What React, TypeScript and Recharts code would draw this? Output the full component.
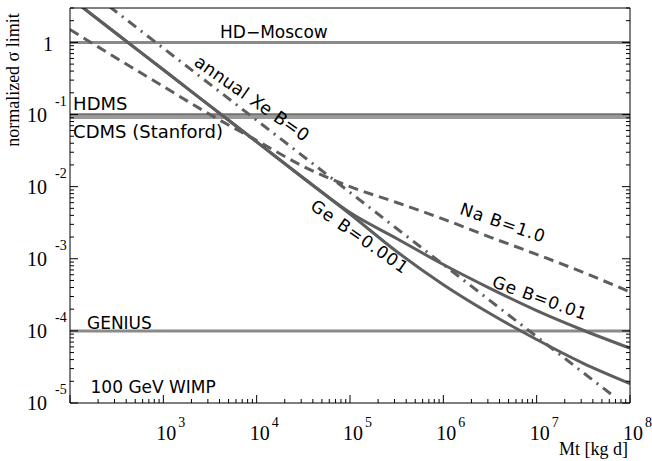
import React from "react";
import { LineChart, Line, XAxis, YAxis, ReferenceLine, ReferenceDot } from "recharts";

// exposure Mt [kg d], sampled every half decade
const massX = [1e2, 3.16e2, 1e3, 3.16e3, 1e4, 3.16e4, 1e5, 3.16e5, 1e6, 3.16e6, 1e7, 3.16e7, 1e8];
const geB0001 = [4.17, 1.32, 0.417, 0.132, 0.0417, 0.0132, 4.17e-3, 1.26e-3, 4.37e-4, 1.74e-4, 7.59e-5, 3.55e-5, 1.86e-5];
const geB001 = [4.17, 1.32, 0.417, 0.132, 0.0417, 0.0132, 4.37e-3, 1.91e-3, 8.32e-4, 3.89e-4, 1.91e-4, 1.02e-4, 5.75e-5];
const naB1 = [1.51, 0.603, 0.245, 0.1, 0.0437, 0.0191, 0.01, 6.03e-3, 3.55e-3, 2.0e-3, 1.15e-3, 6.46e-4, 3.47e-4];
const xeX = [2.63e2, 1e3, 1e4, 1e5, 1e6, 1e7, 6.3e7];
const xeB0 = [3.16, 0.832, 0.0832, 8.32e-3, 8.32e-4, 8.32e-5, 1.32e-5];

// current experiment limits (horizontal lines)
const hdMoscow = 1;
const hdms = 0.1;
const cdms = 0.091;
const genius = 1e-4;

const xMajor = [1e2, 1e3, 1e4, 1e5, 1e6, 1e7, 1e8];
const xExp = ["", "3", "4", "5", "6", "7", "8"];
const yMajor = [1e-5, 1e-4, 1e-3, 1e-2, 1e-1, 1];
const yExp = ["-5", "-4", "-3", "-2", "-1", ""];
const minorSteps = [2, 3, 4, 5, 6, 7, 8, 9];

const xTicks = [...xMajor, ...xMajor.slice(0, -1).flatMap((d) => minorSteps.map((k) => k * d))];
const yTicks = [...yMajor, ...yMajor.flatMap((d) => minorSteps.map((k) => k * d)).filter((v) => v <= 3)];

const toPoints = (xs: number[], ys: number[]) => xs.map((x, i) => ({ x, y: ys[i] }));

const SERIF = "Liberation Serif";
const SANS = "DejaVu Sans";
const CURVE = "#5e5e5e";
const FLAT = "#8a8a8a";

const majorIndex = (list: number[], v: number) => list.findIndex((m) => Math.abs(m - v) / m < 1e-6);

const BottomTick = (props: any) => {
  const { x, y, payload } = props;
  const i = majorIndex(xMajor, payload.value);
  const len = i >= 0 ? 8 : 4;
  return (
    <g>
      <line x1={x} y1={y} x2={x} y2={y - len} stroke="#000" />
      {i >= 0 && xExp[i] && (
        <g fontFamily={SERIF} fill="#000">
          <text x={x + 3} y={y + 37} textAnchor="middle" fontSize={20}>10</text>
          <text x={x + 15} y={y + 24} fontSize={14}>{xExp[i]}</text>
        </g>
      )}
    </g>
  );
};

const TopTick = (props: any) => {
  const { x, y, payload } = props;
  const len = majorIndex(xMajor, payload.value) >= 0 ? 8 : 4;
  return <line x1={x} y1={y} x2={x} y2={y + len} stroke="#000" />;
};

const LeftTick = (props: any) => {
  const { x, y, payload } = props;
  const i = majorIndex(yMajor, payload.value);
  const len = i >= 0 ? 8 : 4;
  return (
    <g>
      <line x1={x} y1={y} x2={x + len} y2={y} stroke="#000" />
      {i >= 0 && (
        <g fontFamily={SERIF} fill="#000">
          {yExp[i] ? (
            <>
              <text x={x - 23} y={y + 7} textAnchor="end" fontSize={20}>10</text>
              <text x={x - 15} y={y - 9} fontSize={14}>{yExp[i]}</text>
            </>
          ) : (
            <text x={x - 17} y={y + 9} textAnchor="end" fontSize={20}>1</text>
          )}
        </g>
      )}
    </g>
  );
};

const RightTick = (props: any) => {
  const { x, y, payload } = props;
  const len = majorIndex(yMajor, payload.value) >= 0 ? 8 : 4;
  return <line x1={x} y1={y} x2={x - len} y2={y} stroke="#000" />;
};

const textAt =
  (text: string, dx: number, dy: number, angle = 0, size = 17, spacing = 0) =>
  (props: any) => {
    const px = props.cx + dx;
    const py = props.cy + dy;
    return (
      <text
        x={px}
        y={py}
        fontFamily={SANS}
        fontSize={size}
        letterSpacing={spacing}
        fill="#000"
        textAnchor={angle ? "middle" : "start"}
        dominantBaseline={angle ? "central" : "auto"}
        transform={angle ? `rotate(${angle} ${px} ${py})` : undefined}
      >
        {text}
      </text>
    );
  };

export default function App() {
  const axisLine = { stroke: "#000", strokeWidth: 1 };
  return (
    <div style={{ position: "absolute", left: 0, top: 0, background: "#fff" }}>
      <LineChart width={652} height={461} margin={{ top: 7, right: 21, bottom: 8, left: 10 }}>
        <XAxis
          xAxisId="b"
          type="number"
          dataKey="x"
          scale="log"
          domain={[1e2, 1e8]}
          allowDataOverflow
          ticks={xTicks}
          interval={0}
          tick={BottomTick}
          tickLine={false}
          tickSize={0}
          tickMargin={0}
          axisLine={axisLine}
          height={50}
          label={(p: any) => (
            <text
              x={p.viewBox.x + p.viewBox.width - 2}
              y={p.viewBox.y + 52}
              textAnchor="end"
              fontFamily={SERIF}
              fontSize={18}
              fill="#000"
            >
              Mt [kg d]
            </text>
          )}
        />
        <XAxis
          xAxisId="t"
          orientation="top"
          type="number"
          scale="log"
          domain={[1e2, 1e8]}
          allowDataOverflow
          ticks={xTicks}
          interval={0}
          tick={TopTick}
          tickLine={false}
          tickSize={0}
          tickMargin={0}
          axisLine={axisLine}
          height={1}
        />
        <YAxis
          yAxisId="l"
          type="number"
          scale="log"
          domain={[1e-5, 3]}
          allowDataOverflow
          ticks={yTicks}
          interval={0}
          tick={LeftTick}
          tickLine={false}
          tickSize={0}
          tickMargin={0}
          axisLine={axisLine}
          width={60}
          label={(p: any) => {
            const cx = p.viewBox.x + 9;
            const cy = p.viewBox.y + 72;
            return (
              <text
                x={cx}
                y={cy}
                transform={`rotate(-90 ${cx} ${cy})`}
                textAnchor="middle"
                fontFamily={SERIF}
                fontSize={18}
                fill="#000"
              >
                normalized σ limit
              </text>
            );
          }}
        />
        <YAxis
          yAxisId="r"
          orientation="right"
          type="number"
          scale="log"
          domain={[1e-5, 3]}
          allowDataOverflow
          ticks={yTicks}
          interval={0}
          tick={RightTick}
          tickLine={false}
          tickSize={0}
          tickMargin={0}
          axisLine={axisLine}
          width={1}
        />

        <ReferenceLine xAxisId="b" yAxisId="l" y={hdMoscow} stroke={FLAT} strokeWidth={3} />
        <ReferenceLine xAxisId="b" yAxisId="l" y={hdms} stroke="#727272" strokeWidth={2.5} />
        <ReferenceLine xAxisId="b" yAxisId="l" y={cdms} stroke="#9a9a9a" strokeWidth={3} />
        <ReferenceLine xAxisId="b" yAxisId="l" y={genius} stroke={FLAT} strokeWidth={3} />

        <Line xAxisId="b" yAxisId="l" data={toPoints(massX, naB1)} dataKey="y" type="monotone" stroke={CURVE} strokeWidth={3} strokeDasharray="10 6" dot={false} isAnimationActive={false} />
        <Line xAxisId="b" yAxisId="l" data={toPoints(xeX, xeB0)} dataKey="y" type="linear" stroke={CURVE} strokeWidth={3} strokeDasharray="10 6 2 6" dot={false} isAnimationActive={false} />
        <Line xAxisId="b" yAxisId="l" data={toPoints(massX, geB001)} dataKey="y" type="monotone" stroke={CURVE} strokeWidth={3} dot={false} isAnimationActive={false} />
        <Line xAxisId="b" yAxisId="l" data={toPoints(massX, geB0001)} dataKey="y" type="monotone" stroke={CURVE} strokeWidth={3} dot={false} isAnimationActive={false} />

        <ReferenceDot xAxisId="b" yAxisId="l" x={4050} y={hdMoscow} r={1} shape={textAt("HD−Moscow", 0, -4)} />
        <ReferenceDot xAxisId="b" yAxisId="l" x={108} y={hdms} r={1} shape={textAt("HDMS", 0, -4.5, 0, 18)} />
        <ReferenceDot xAxisId="b" yAxisId="l" x={108} y={hdms} r={1} shape={textAt("CDMS (Stanford)", 0, 23.5, 0, 18)} />
        <ReferenceDot xAxisId="b" yAxisId="l" x={152} y={genius} r={1} shape={textAt("GENIUS", 0, -2)} />
        <ReferenceDot xAxisId="b" yAxisId="l" x={166} y={1e-5} r={1} shape={textAt("100 GeV WIMP", 0, -10)} />
        <ReferenceDot xAxisId="b" yAxisId="l" x={8910} y={0.167} r={1} shape={textAt("annual Xe B=0", 0, 0, 35, 17.5, 0.4)} />
        <ReferenceDot xAxisId="b" yAxisId="l" x={1.28e5} y={2.02e-3} r={1} shape={textAt("Ge B=0.001", 0, 0, 35, 17, 1.2)} />
        <ReferenceDot xAxisId="b" yAxisId="l" x={4.36e6} y={3.16e-3} r={1} shape={textAt("Na B=1.0", 0, 0, 19, 17, 1)} />
        <ReferenceDot xAxisId="b" yAxisId="l" x={1.09e7} y={2.87e-4} r={1} shape={textAt("Ge B=0.01", 0, 0, 20, 17, 0.8)} />
      </LineChart>
    </div>
  );
}
